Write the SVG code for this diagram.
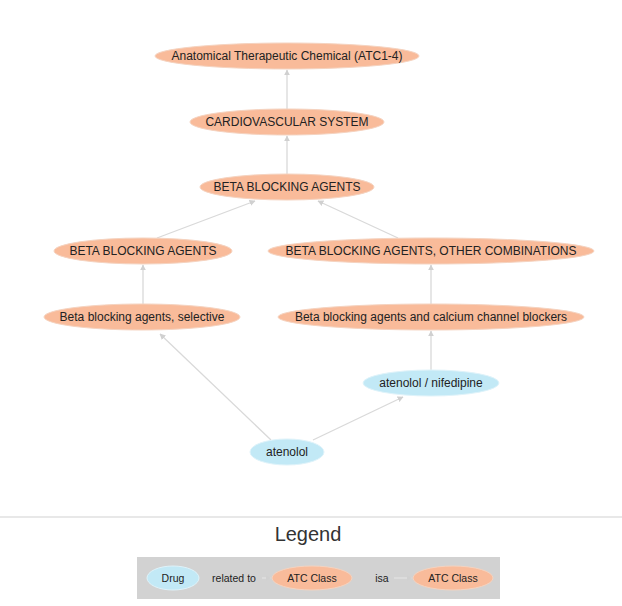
<svg xmlns="http://www.w3.org/2000/svg" width="622" height="606" viewBox="0 0 622 606">
<style>
.atc{fill:#f9bb9a;stroke:#f5d3c0;stroke-width:1}
.drug{fill:#c2e9f6;stroke:#dff3fa;stroke-width:1}
text{font-family:Arial,"Liberation Sans",sans-serif;font-size:12px;fill:#222;text-anchor:middle;dominant-baseline:central}
.edge{stroke:#d9d9d9;stroke-width:1.3;fill:none;marker-end:url(#arr)}
</style>
<defs>
<marker id="arr" viewBox="0 0 10 10" refX="9" refY="5" markerWidth="6" markerHeight="6" orient="auto" markerUnits="userSpaceOnUse">
<path d="M0,0 L10,5 L0,10 z" fill="#d0d0d0"/>
</marker>
</defs>
<rect width="622" height="606" fill="#fff"/>
<g id="connectors">
<line class="edge" x1="287" y1="109" x2="287" y2="70"/>
<line class="edge" x1="287" y1="174" x2="287" y2="136"/>
<line class="edge" x1="157" y1="238" x2="255" y2="201"/>
<line class="edge" x1="398" y1="238" x2="318" y2="201"/>
<line class="edge" x1="143" y1="304" x2="143" y2="265"/>
<line class="edge" x1="431" y1="304" x2="431" y2="265"/>
<line class="edge" x1="431" y1="370" x2="431" y2="331"/>
<line class="edge" x1="271" y1="440" x2="160" y2="334"/>
<line class="edge" x1="313" y1="440" x2="403" y2="397"/>
</g>
<g id="n1"><ellipse class="atc" cx="287" cy="56" rx="132" ry="13"/><text x="287" y="56">Anatomical Therapeutic Chemical (ATC1-4)</text></g>
<g id="n2"><ellipse class="atc" cx="287" cy="122" rx="97" ry="13"/><text x="287" y="122">CARDIOVASCULAR SYSTEM</text></g>
<g id="n3"><ellipse class="atc" cx="287" cy="187" rx="87" ry="13"/><text x="287" y="187">BETA BLOCKING AGENTS</text></g>
<g id="n4"><ellipse class="atc" cx="143" cy="251" rx="89" ry="13"/><text x="143" y="251">BETA BLOCKING AGENTS</text></g>
<g id="n5"><ellipse class="atc" cx="431" cy="251" rx="163" ry="13"/><text x="431" y="251">BETA BLOCKING AGENTS, OTHER COMBINATIONS</text></g>
<g id="n6"><ellipse class="atc" cx="142" cy="317" rx="98" ry="13"/><text x="142" y="317">Beta blocking agents, selective</text></g>
<g id="n7"><ellipse class="atc" cx="431" cy="317" rx="153" ry="13"/><text x="431" y="317">Beta blocking agents and calcium channel blockers</text></g>
<g id="n8"><ellipse class="drug" cx="431" cy="383" rx="68" ry="13"/><text x="431" y="383">atenolol / nifedipine</text></g>
<g id="n9"><ellipse class="drug" cx="287" cy="452" rx="37" ry="13"/><text x="287" y="452">atenolol</text></g>
<g id="legend">
<line x1="0" y1="517" x2="622" y2="517" stroke="#e0e0e0" stroke-width="1.5"/>
<text x="308" y="534" style="font-size:20px;fill:#333">Legend</text>
<rect x="137" y="557" width="363" height="42" fill="#d2d2d2"/>
<ellipse class="drug" cx="173" cy="578" rx="26" ry="12"/><text x="173" y="578" style="font-size:10.5px">Drug</text>
<text x="234" y="578" style="font-size:10.5px">related to</text>
<line x1="262" y1="578" x2="271" y2="578" stroke="#e6e6e6" stroke-width="1" marker-end="url(#arr)"/>
<ellipse class="atc" cx="312" cy="578" rx="40" ry="12"/><text x="312" y="578" style="font-size:10.5px">ATC Class</text>
<text x="382" y="578" style="font-size:10.5px">isa</text>
<line x1="394" y1="578" x2="412" y2="578" stroke="#e6e6e6" stroke-width="1" marker-end="url(#arr)"/>
<ellipse class="atc" cx="453" cy="578" rx="40" ry="12"/><text x="453" y="578" style="font-size:10.5px">ATC Class</text>
</g>
</svg>
